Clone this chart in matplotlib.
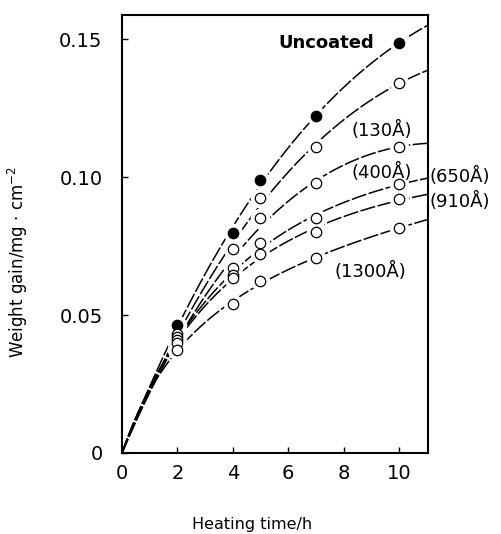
import numpy as np
import matplotlib
matplotlib.use("Agg")
import matplotlib.pyplot as plt

# ---- data ----
hours = [2, 4, 5, 7, 10]
uncoated = [0.0465, 0.0797, 0.0990, 0.1220, 0.1486]
c130 = [0.0430, 0.0740, 0.0925, 0.1110, 0.1340]
c400 = [0.0420, 0.0670, 0.0850, 0.0980, 0.1110]
c650 = [0.0410, 0.0645, 0.0760, 0.0850, 0.0975]
c910 = [0.0400, 0.0635, 0.0720, 0.0800, 0.0920]
c1300 = [0.0373, 0.0540, 0.0623, 0.0707, 0.0815]

series = [uncoated, c130, c400, c650, c910, c1300]
filled = [True, False, False, False, False, False]

labels = ["Uncoated", "(130Å)", "(400Å)", "(650Å)", "(910Å)", "(1300Å)"]
label_pos = [(5.63, 0.1467), (8.30, 0.1149), (8.30, 0.0996),
             (11.12, 0.0982), (11.12, 0.0891), (7.69, 0.0638)]

xticks = [0, 2, 4, 6, 8, 10]
xticklabels = ["0", "2", "4", "6", "8", "10"]
yticks = [0, 0.05, 0.10, 0.15]
yticklabels = ["0", "0.05", "0.10", "0.15"]

fig = plt.figure(figsize=(5.01, 5.34), dpi=100)
ax = fig.add_axes([0.2435, 0.1517, 0.6108, 0.8202])
ax.set_xlim(0, 11.05)
ax.set_ylim(0, 0.1587)

t = np.array(hours, dtype=float)
tt = np.linspace(0, 11.05, 300)


def smooth_fit(v):
    """Least-squares concave curve through the origin: a*t/(1+b*t) + c*t."""
    best = None
    for b in np.linspace(0.0, 1.5, 301):
        A = np.column_stack([t / (1 + b * t), t])
        coef, *_ = np.linalg.lstsq(A, v, rcond=None)
        r = np.sum((A @ coef - v) ** 2)
        if best is None or r < best[0]:
            best = (r, b, coef)
    _, b, coef = best
    return coef[0] * tt / (1 + b * tt) + coef[1] * tt


for vals in series:
    yy = smooth_fit(np.array(vals))
    ax.plot(tt, yy, color="black", lw=1.1, zorder=2, dashes=(10, 1.6))

for vals in series:
    # white halo to break the line around markers
    ax.plot(hours, vals, ls="none", marker="o", ms=13, mfc="white",
            mec="white", zorder=3)
for vals, fill in zip(series, filled):
    ax.plot(hours, vals, ls="none", marker="o", ms=7.5,
            mfc="black" if fill else "white", mec="black", mew=0.9, zorder=4)

for lab, (x, y) in zip(labels, label_pos):
    ax.text(x, y, lab, fontsize=13,
            fontweight="bold" if lab == "Uncoated" else "normal",
            ha="left", va="baseline", clip_on=False, zorder=5)

ax.set_xticks(xticks)
ax.set_xticklabels(xticklabels)
ax.set_yticks(yticks)
ax.set_yticklabels(yticklabels)
ax.tick_params(direction="in", length=4, width=1, labelsize=14)
ax.tick_params(axis="x", pad=8)
ax.tick_params(axis="y", pad=14)
for s in ax.spines.values():
    s.set_linewidth(1.5)

fig.text(252/501, 1 - 525/534, "Heating time/h", fontsize=11.5,
         ha="center", va="center")
fig.text(18/501, 1 - 262/534, "Weight gain/mg · cm$^{-2}$", fontsize=12,
         ha="center", va="center", rotation=90)

fig.savefig("out.png", dpi=100)
